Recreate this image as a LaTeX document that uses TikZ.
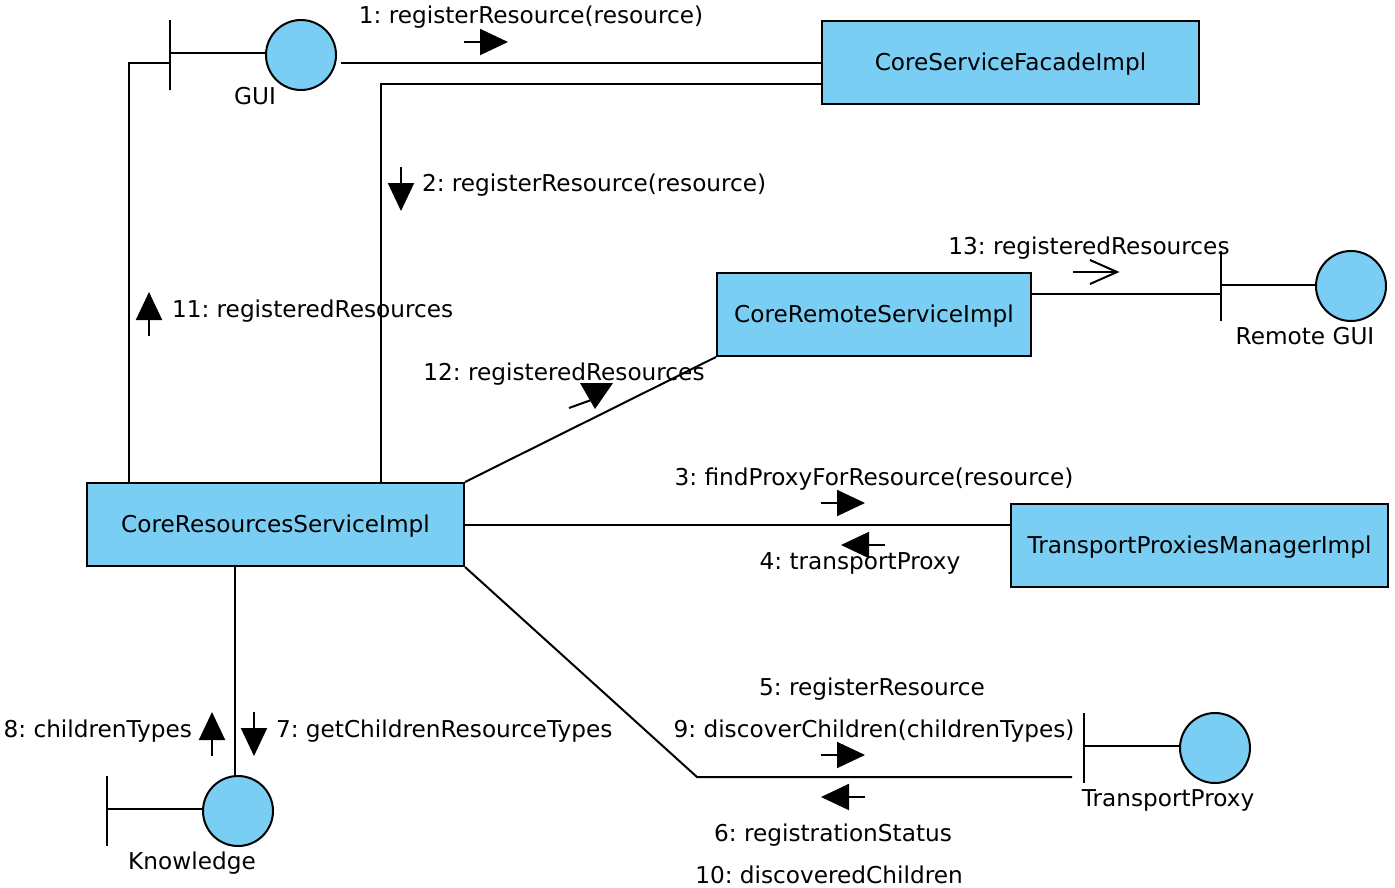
\documentclass[tikz,border=0pt]{standalone}
\usepackage{fontspec}
\setmainfont{DejaVu Sans}
\usetikzlibrary{arrows.meta}
\definecolor{boxblue}{RGB}{122,206,244}
\frenchspacing
\begin{document}
\begin{tikzpicture}[x=1pt,y=-1pt,line width=2pt,
  every node/.style={font=\fontsize{23.2}{27}\selectfont, inner sep=0pt, text height=16.9pt, text depth=0pt},
  cls/.style={draw, fill=boxblue, minimum height=83pt},
  actor/.style={circle, draw, fill=boxblue, minimum size=70pt, text height=0pt, text depth=0pt},
  msg/.style={-{Triangle[length=28pt,width=26pt]}}]
\useasboundingbox (0,0) rectangle (1395,887);

% classes
\node[cls, minimum width=377pt] (fac) at (1010.5,62.5) {CoreServiceFacadeImpl};
\node[cls, minimum width=314pt] (remote) at (874,314.5) {CoreRemoteServiceImpl};
\node[cls, minimum width=377pt] (res) at (275.5,524.5) {CoreResourcesServiceImpl};
\node[cls, minimum width=377pt] (tpm) at (1199.5,545.5) {TransportProxiesManagerImpl};

% boundary actors
\node[actor] (gui) at (301,55) {};
\coordinate (guibar) at (170,55);
\draw (170,20) -- (170,90);
\draw (guibar |- 0,53) -- (gui.west |- 0,53);
\node (guil) at (255,96) {GUI};

\node[actor] (rgui) at (1351,286) {};
\coordinate (rbar) at (1221,286);
\draw (1221,251) -- (1221,321);
\draw (rbar |- 0,285) -- (rgui.west |- 0,285);
\node (rguil) at (1305,336) {Remote GUI};

\node[actor] (tp) at (1215,748) {};
\coordinate (tpbar) at (1084,748);
\draw (1084,713) -- (1084,783);
\draw (tpbar |- 0,746) -- (tp.west |- 0,746);
\node (tpl) at (1168,798) {TransportProxy};

\node[actor] (kn) at (238,811) {};
\coordinate (knbar) at (107,811);
\draw (107,776) -- (107,846);
\draw (knbar |- 0,809) -- (kn.west |- 0,809);
\node (knl) at (192,861) {Knowledge};

% connectors
\coordinate (g1) at ([shift={(4,8)}]gui.east);
\draw (g1) -- (g1 -| fac.west);
\draw ([shift={(43,0)}]res.north west) |- (guibar |- 0,63);
\draw ([shift={(0,21.5)}]fac.west) -| ([shift={(295,0)}]res.north west);
\draw (res.north east) -- (remote.south west);
\coordinate (r1) at ([shift={(0,-20.5)}]remote.east);
\draw (r1) -- (r1 -| rbar);
\draw (res.east) -- (res.east -| tpm.west);
\coordinate (bend) at (697,777);
\coordinate (tpend) at ([shift={(-12,0)}]bend -| tpbar);
\draw (res.south east) -- (bend) -- (tpend);
\coordinate (k1) at ([shift={(-41,0)}]res.south);
\draw (k1) -- (k1 |- kn.north);

% message arrows
\draw[msg] (464,42) -- (508,42);
\draw[msg] (401,167) -- (401,211);
\draw[msg] (149,336) -- (149,292);
\draw (1073,272) -- (1117,272);
\draw (1090,260) -- (1117,272) -- (1090,284);
\draw (569,408) -- (594,399);
\fill (580,383) -- (613,383) -- (595,409) -- cycle;
\draw[msg] (821,503) -- (865,503);
\draw[msg] (885,545) -- (841,545);
\draw[msg] (821,755) -- (865,755);
\draw[msg] (865,797) -- (821,797);
\draw[msg] (212,756) -- (212,712);
\draw[msg] (254,712) -- (254,756);

% labels
\node (m1) at (531,15) {1: registerResource(resource)};
\node[anchor=west] (m2) at (421,183) {2: registerResource(resource)};
\node[anchor=west] (m11) at (171,309) {11: registeredResources};
\node (m13) at (1089,246) {13: registeredResources};
\node (m12) at (564,372) {12: registeredResources};
\node (m3) at (874,477) {3: findProxyForResource(resource)};
\node (m4) at (860,561) {4: transportProxy};
\node (m5) at (872,687) {5: registerResource};
\node (m9) at (874,729) {9: discoverChildren(childrenTypes)};
\node (m6) at (833,833) {6: registrationStatus};
\node (m10) at (829,875) {10: discoveredChildren};
\node[anchor=east] (m8) at (193,729) {8: childrenTypes};
\node[anchor=west] (m7) at (275,729) {7: getChildrenResourceTypes};
\end{tikzpicture}
\end{document}
